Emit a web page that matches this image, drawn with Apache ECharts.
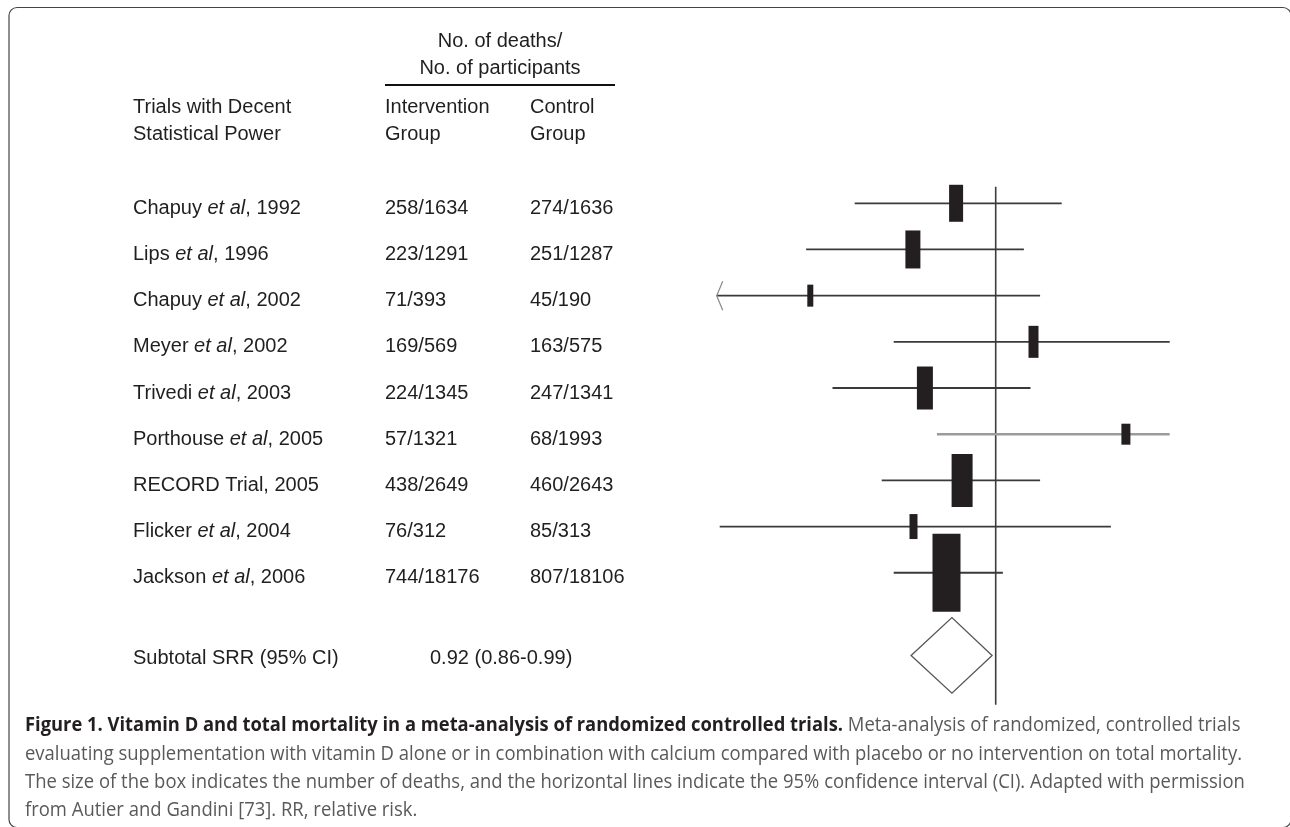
<!DOCTYPE html>
<html>
<head>
<meta charset="utf-8">
<script src="https://cdn.jsdelivr.net/npm/echarts@6/dist/echarts.min.js"></script>
<style>
html,body{margin:0;padding:0;background:#fff;}
#chart{width:1290px;height:827px;}
</style>
</head>
<body>
<div id="chart"></div>
<script>
// ---------- data ----------
const trialNames = [
  ["Chapuy ", "et al", ", 1992"],
  ["Lips ", "et al", ", 1996"],
  ["Chapuy ", "et al", ", 2002"],
  ["Meyer ", "et al", ", 2002"],
  ["Trivedi ", "et al", ", 2003"],
  ["Porthouse ", "et al", ", 2005"],
  ["RECORD Trial, 2005", "", ""],
  ["Flicker ", "et al", ", 2004"],
  ["Jackson ", "et al", ", 2006"]
];
const interventionGroup = ["258/1634","223/1291","71/393","169/569","224/1345","57/1321","438/2649","76/312","744/18176"];
const controlGroup = ["274/1636","251/1287","45/190","163/575","247/1341","68/1993","460/2643","85/313","807/18106"];
const relRisk = [0.934, 0.862, 0.691, 1.063, 0.882, 1.217, 0.944, 0.863, 0.918];
const ciLower = [0.765, 0.684, 0.535, 0.830, 0.728, 0.902, 0.810, 0.540, 0.830];
const ciUpper = [1.110, 1.047, 1.074, 1.290, 1.058, 1.290, 1.074, 1.192, 1.012];
const ciTruncatedLeft = [false, false, true, false, false, false, false, false, false];
const weightBoxW = [14, 15, 6, 10, 16, 9, 21, 8, 28];
const weightBoxH = [37, 38, 22, 32, 43, 21, 53, 25, 78];
const subtotalLabel = "Subtotal SRR (95% CI)";
const subtotalText = "0.92 (0.86-0.99)";
const subtotalRR = [0.927, 0.859, 0.994]; // estimate, lower, upper
const nullValue = 1.0;

// ---------- layout constants ----------
const SUBTOTAL_ROW = 9.79;
const REF_TOP = -0.36, REF_BOTTOM = 10.86;
const COL_NAME = 133, COL_INT = 385, COL_CTL = 530, COL_SUB = 430;
const TXT_SIZE = 20;
const TXT_FAMILY = "'Liberation Sans', Arial, sans-serif";
const TXT_FONT = TXT_SIZE + "px " + TXT_FAMILY;
const TXT_COLOR = "#1f1f1f";
const CAP_FAMILY = "'Open Sans', 'Noto Sans', sans-serif";
const CAP_SIZE = 20;

const rows = relRisk.map((v, i) => [v, i, ciLower[i], ciUpper[i], weightBoxW[i], weightBoxH[i], ciTruncatedLeft[i] ? 1 : 0, i === 5 ? 1 : 0]);

const chart = echarts.init(document.getElementById('chart'), null, {renderer: 'canvas'});

function renderTrial(params, api) {
  const est = api.value(0), row = api.value(1), lo = api.value(2), hi = api.value(3);
  const bw = api.value(4), bh = api.value(5), trunc = api.value(6), gray = api.value(7);
  const pLo = api.coord([lo, row]);
  const pHi = api.coord([hi, row]);
  const pE = api.coord([est, row]);
  const children = [
    {type: 'line', shape: {x1: pLo[0], y1: pLo[1], x2: pHi[0], y2: pHi[1]},
     style: {stroke: gray ? '#9b9b9b' : '#3a3a3a', lineWidth: gray ? 2.5 : 1.8}},
    {type: 'rect', shape: {x: pE[0] - bw / 2, y: pE[1] - bh / 2, width: bw, height: bh},
     style: {fill: '#231f20'}}
  ];
  if (trunc) {
    children.push({type: 'polyline', shape: {points: [[pLo[0] + 6, pLo[1] - 14.5], [pLo[0], pLo[1]], [pLo[0] + 6, pLo[1] + 14.5]]},
      style: {stroke: '#8a8a8a', lineWidth: 1.2, fill: null}});
  }
  return {type: 'group', children: children};
}

function renderTextRow(params, api) {
  const i = params.dataIndex;
  const row = api.value(1);
  const y = api.coord([nullValue, row])[1] + 5;
  const n = trialNames[i];
  const nameText = n[1] ? (n[0] + '{i|' + n[1] + '}' + n[2]) : n[0];
  const base = {font: TXT_FONT, fill: TXT_COLOR, verticalAlign: 'middle', textVerticalAlign: 'middle', align: 'left'};
  return {type: 'group', children: [
    {type: 'text', x: COL_NAME, y: y, style: Object.assign({}, base, {text: nameText,
      rich: {i: {font: "italic " + TXT_FONT, fill: TXT_COLOR}}})},
    {type: 'text', x: COL_INT, y: y, style: Object.assign({}, base, {text: interventionGroup[i]})},
    {type: 'text', x: COL_CTL, y: y, style: Object.assign({}, base, {text: controlGroup[i]})}
  ]};
}

function renderSubtotal(params, api) {
  const est = api.value(0), lo = api.value(1), hi = api.value(2), row = api.value(3);
  const c = api.coord([est, row]);
  const l = api.coord([lo, row]);
  const r = api.coord([hi, row]);
  const half = 37.8;
  const ty = c[1] + 3;
  const base = {font: TXT_FONT, fill: TXT_COLOR, verticalAlign: 'middle', textVerticalAlign: 'middle', align: 'left'};
  return {type: 'group', children: [
    {type: 'polygon', shape: {points: [[l[0], c[1]], [c[0], c[1] - half], [r[0], c[1]], [c[0], c[1] + half]]},
     style: {fill: '#ffffff', stroke: '#555', lineWidth: 1.3}},
    {type: 'text', x: COL_NAME, y: ty, style: Object.assign({}, base, {text: subtotalLabel})},
    {type: 'text', x: COL_SUB, y: ty, style: Object.assign({}, base, {text: subtotalText})}
  ]};
}

function renderRef(params, api) {
  const a = api.coord([api.value(0), api.value(1)]);
  const b = api.coord([api.value(0), api.value(2)]);
  return {type: 'line', shape: {x1: a[0], y1: a[1], x2: b[0], y2: b[1]}, style: {stroke: '#3d3d3d', lineWidth: 1.6}};
}

// ---------- caption ----------
const capBold = "Figure 1. Vitamin D and total mortality in a meta-analysis of randomized controlled trials.";
const capLines = [
  "Meta-analysis of randomized, controlled trials",
  "evaluating supplementation with vitamin D alone or in combination with calcium compared with placebo or no intervention on total mortality.",
  "The size of the box indicates the number of deaths, and the horizontal lines indicate the 95% confidence interval (CI). Adapted with permission",
  "from Autier and Gandini [73]. RR, relative risk."
];
const CAP_X = 25;
const CAP_Y = [725, 754, 782, 810];
const CAP_LINE2_END = 1242, CAP_BOLD_END = 843;
const mctx = document.createElement('canvas').getContext('2d');
function measure(t, font) { mctx.font = font; return mctx.measureText(t).width; }
const capRegFont = CAP_SIZE + "px " + CAP_FAMILY;
const capBoldFont = "bold " + CAP_SIZE + "px " + CAP_FAMILY;
const sReg = (CAP_LINE2_END - CAP_X) / measure(capLines[1], capRegFont);
const sBold = (CAP_BOLD_END - CAP_X) / measure(capBold, capBoldFont);
const boldW = CAP_BOLD_END - CAP_X;

function capText(t, x, y, s, font, fill) {
  return {type: 'text', x: x, y: y, scaleX: s, style: {text: t, font: font, fill: fill, verticalAlign: 'middle', textVerticalAlign: 'middle', align: 'left'}};
}

const hdr = (t, x, y, align) => ({type: 'text', x: x, y: y, style: {text: t, font: TXT_FONT, fill: TXT_COLOR, align: align || 'left', textAlign: align || 'left', verticalAlign: 'middle', textVerticalAlign: 'middle'}});
const UNDER_L = COL_INT, UNDER_R = 615;
const HDR_C = (UNDER_L + UNDER_R) / 2;

const option = {
  backgroundColor: '#ffffff',
  animation: false,
  grid: {left: 695.7, right: 120.3, top: 157.1, bottom: 115.7, containLabel: false},
  xAxis: {type: 'value', min: 0.5, max: 1.29, show: false},
  yAxis: {type: 'value', min: -1, max: 11, inverse: true, show: false},
  graphic: [
    {type: 'rect', shape: {x: 9, y: 7.5, width: 1282, height: 820, r: 8}, style: {fill: null, stroke: '#444', lineWidth: 1.2}, z: 0},
    hdr("No. of deaths/", HDR_C, 41, 'center'),
    hdr("No. of participants", HDR_C, 68, 'center'),
    {type: 'line', shape: {x1: UNDER_L, y1: 85, x2: UNDER_R, y2: 85}, style: {stroke: '#111', lineWidth: 2}},
    hdr("Trials with Decent", COL_NAME, 107),
    hdr("Statistical Power", COL_NAME, 134),
    hdr("Intervention", COL_INT, 107),
    hdr("Group", COL_INT, 134),
    hdr("Control", COL_CTL, 107),
    hdr("Group", COL_CTL, 134),
    capText(capBold, CAP_X, CAP_Y[0], sBold, capBoldFont, '#231f20'),
    capText(" " + capLines[0], CAP_X + boldW, CAP_Y[0], sReg, capRegFont, '#58595b'),
    capText(capLines[1], CAP_X, CAP_Y[1], sReg, capRegFont, '#58595b'),
    capText(capLines[2], CAP_X, CAP_Y[2], sReg, capRegFont, '#58595b'),
    capText(capLines[3], CAP_X, CAP_Y[3], sReg, capRegFont, '#58595b')
  ],
  series: [
    {type: 'custom', renderItem: renderRef, data: [[nullValue, REF_TOP, REF_BOTTOM]], encode: {x: 0, y: 1}, silent: true, clip: false, z: 1},
    {type: 'custom', renderItem: renderTrial, data: rows, encode: {x: [0, 2, 3], y: 1}, silent: true, clip: false, z: 2},
    {type: 'custom', renderItem: renderTextRow, data: rows, encode: {x: 0, y: 1}, silent: true, clip: false, z: 3},
    {type: 'custom', renderItem: renderSubtotal, data: [[subtotalRR[0], subtotalRR[1], subtotalRR[2], SUBTOTAL_ROW]], encode: {x: [0, 1, 2], y: 3}, silent: true, clip: false, z: 3}
  ]
};
chart.setOption(option);
</script>
</body>
</html>
